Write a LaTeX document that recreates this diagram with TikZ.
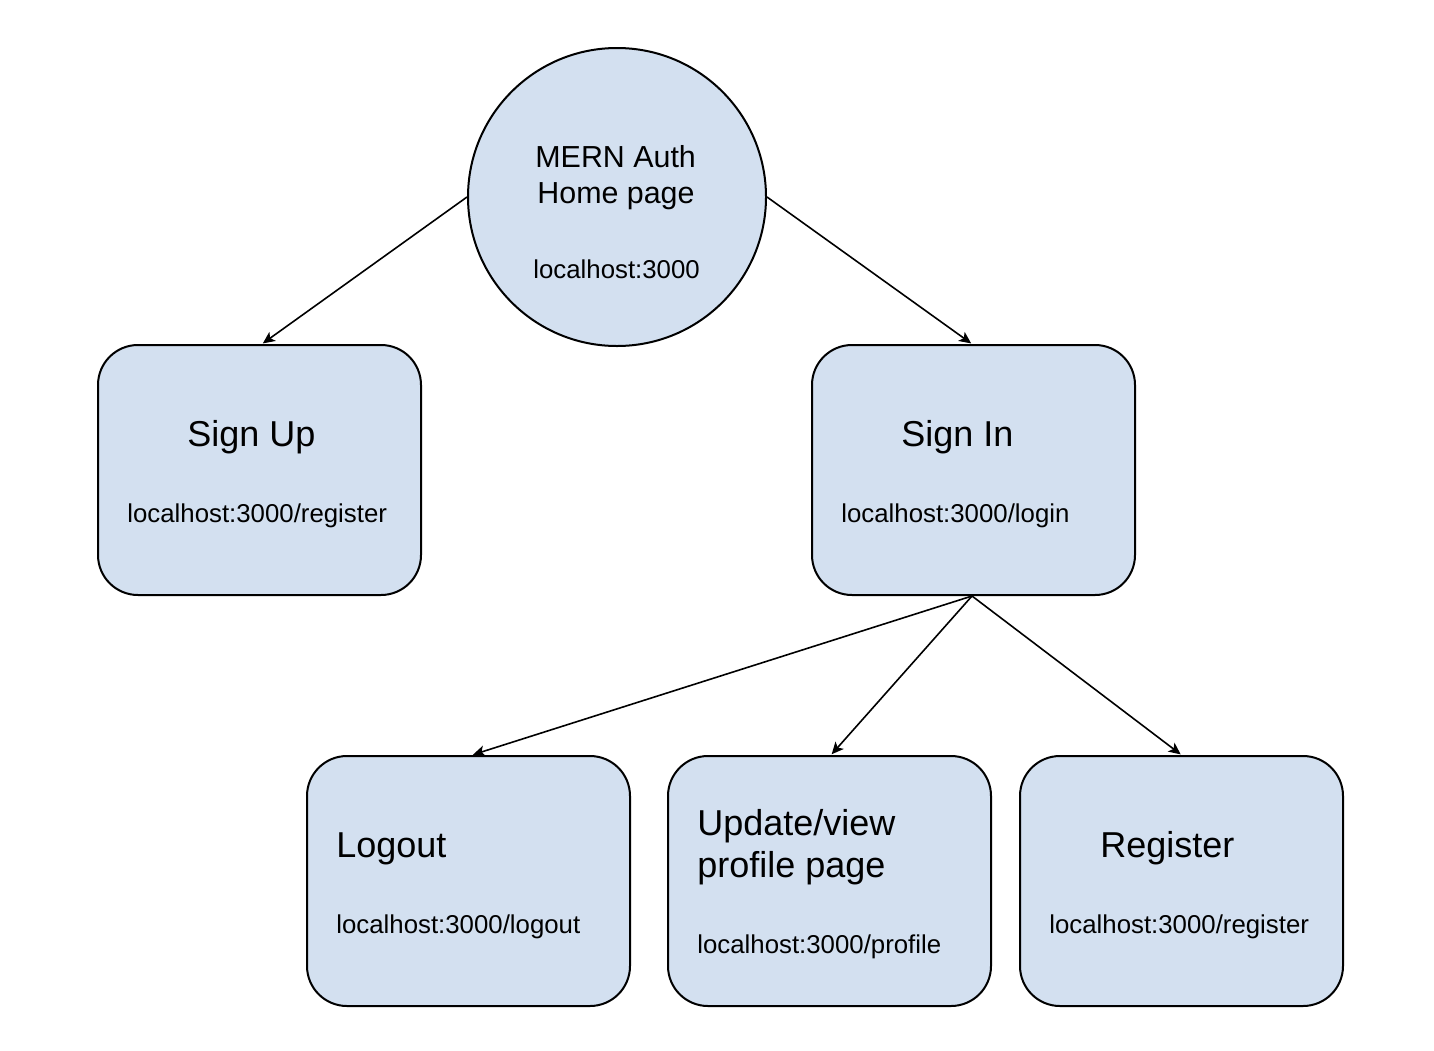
\documentclass[tikz,border=0pt]{standalone}
\usepackage{fontspec}
\setmainfont{Liberation Sans}
\usetikzlibrary{arrows.meta}
\definecolor{boxfill}{HTML}{D3E0F0}
\begin{document}
\begin{tikzpicture}[x=0.5pt,y=-0.5pt,
  box/.style={draw=black,line width=1pt,fill=boxfill,rounded corners=20pt,minimum width=161.5pt,minimum height=125pt,inner sep=0pt},
  homec/.style={draw=black,line width=1pt,fill=boxfill,circle,minimum size=149pt,inner sep=0pt},
  big/.style={anchor=base west,inner sep=0pt,font=\fontsize{18}{21}\selectfont},
  mid/.style={anchor=base west,inner sep=0pt,font=\fontsize{15.2}{18}\selectfont},
  small/.style={anchor=base west,inner sep=0pt,font=\fontsize{12.9}{15}\selectfont},
  link/.style={draw=black,line width=0.8pt,-{Stealth[length=6pt,width=5.5pt,inset=1.5pt]},shorten >=0.5pt}
]
\useasboundingbox (0,0) rectangle (1434,1050);
\node[homec] (home) at (617,197) {};
\node[box] (signup) at (259.5,470) {};
\node[box] (signin) at (973.5,470) {};
\node[box] (logout) at (468.5,881) {};
\node[box] (update) at (829.5,881) {};
\node[box] (register) at (1181.5,881) {};

\node[mid] (h1) at (535,167) {MERN Auth};
\node[mid] (h2) at (537,203) {Home page};
\node[small] (h3) at (533,278) {localhost:3000};

\node[big] (su1) at (187,446) {Sign Up};
\node[small] (su2) at (127,522) {localhost:3000/register};

\node[big] (si1) at (901,446) {Sign In};
\node[small] (si2) at (841,522) {localhost:3000/login};

\node[big] (lo1) at (336,857) {Logout};
\node[small] (lo2) at (336,933) {localhost:3000/logout};

\node[big] (up1) at (697,835) {Update/view};
\node[big] (up2) at (697,877) {profile page};
\node[small] (up3) at (697,953) {localhost:3000/profile};

\node[big] (re1) at (1100,857) {Register};
\node[small] (re2) at (1049,933) {localhost:3000/register};

\draw[link] (home.west) -- ([xshift=1.25pt]signup.north);
\draw[link] (home.east) -- ([xshift=-0.75pt]signin.north);
\draw[link] ([xshift=-0.75pt]signin.south) -- ([xshift=1.75pt]logout.north);
\draw[link] ([xshift=-0.75pt]signin.south) -- ([xshift=0.75pt]update.north);
\draw[link] ([xshift=-0.75pt]signin.south) -- (register.north);
\end{tikzpicture}
\end{document}
